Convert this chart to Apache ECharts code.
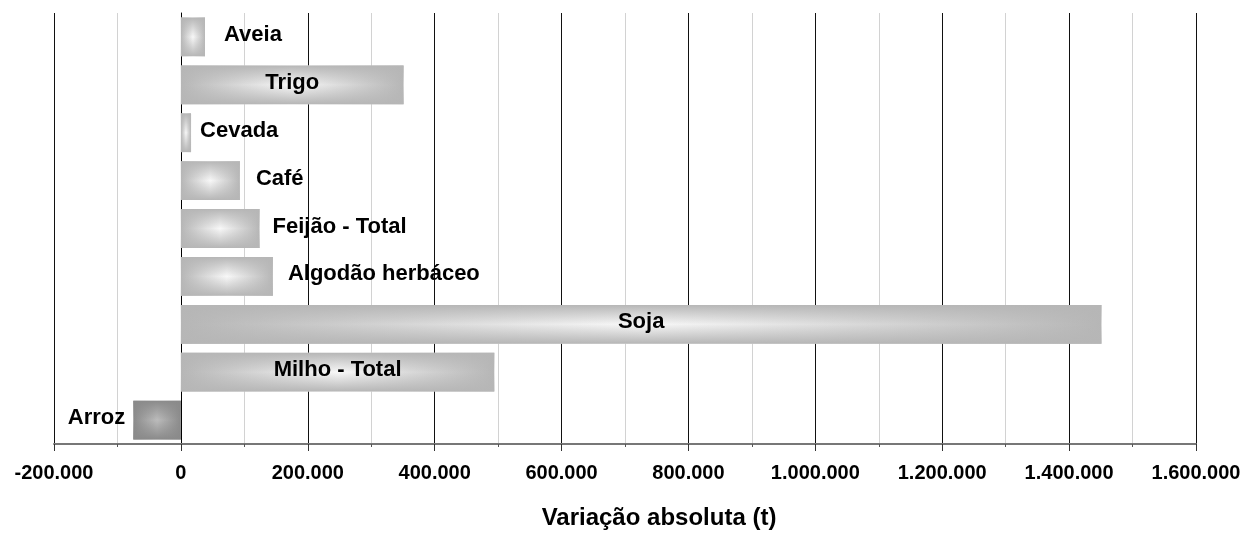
<!DOCTYPE html>
<html>
<head>
<meta charset="utf-8">
<script src="https://cdn.jsdelivr.net/npm/echarts@6/dist/echarts.min.js"></script>
<style>
  html, body { margin: 0; padding: 0; background: #fff; }
  #bar1 { width: 1244px; height: 539px; }
</style>
</head>
<body>
<div id="bar1"></div>
<script>
// categorias de baixo para cima
const culturas = ['Arroz', 'Milho - Total', 'Soja', 'Algodão herbáceo', 'Feijão - Total', 'Café', 'Cevada', 'Trigo', 'Aveia']
const variacao = [-75000, 494000, 1451000, 145000, 124000, 93000, 16000, 351000, 38000]
const ticksX = [-200000, 0, 200000, 400000, 600000, 800000, 1000000, 1200000, 1400000, 1600000]

// onde fica o rótulo de cada barra
const rotuloPos = ['left', 'inside', 'inside', 'right', 'right', 'right', 'right', 'inside', 'right']
const rotuloDist = [8, 0, 0, 15, 13, 16, 9, 0, 19]

const mychart = echarts.init(document.getElementById('bar1'))

function fmt (v) {
  const s = String(Math.abs(v)).replace(/\B(?=(\d{3})+(?!\d))/g, '.')
  return v < 0 ? '-' + s : s
}

function horiz (borda, centro) {
  return new echarts.graphic.LinearGradient(0, 0, 1, 0, [
    { offset: 0, color: borda },
    { offset: 0.5, color: centro },
    { offset: 1, color: borda }
  ])
}
function vert (rgb) {
  return new echarts.graphic.LinearGradient(0, 0, 0, 1, [
    { offset: 0, color: 'rgba(' + rgb + ',1)' },
    { offset: 0.5, color: 'rgba(' + rgb + ',0)' },
    { offset: 1, color: 'rgba(' + rgb + ',1)' }
  ])
}

const base = variacao.map(v => ({
  value: v,
  itemStyle: { color: v < 0 ? horiz('#8a8a8a', '#bcbcbc') : horiz('#b6b6b6', '#f8f8f8') }
}))
// camada de cima: sombreado vertical + rótulos
const sombra = variacao.map((v, i) => ({
  value: v,
  itemStyle: { color: v < 0 ? vert('138,138,138') : vert('182,182,182') },
  label: { position: rotuloPos[i], distance: rotuloDist[i] }
}))

const option = {
  animation: false,
  textStyle: { fontFamily: 'Liberation Sans, Arial, sans-serif' },
  grid: { left: 54, right: 48, top: 13, bottom: 95, containLabel: false },
  xAxis: {
    type: 'value',
    min: ticksX[0],
    max: ticksX[ticksX.length - 1],
    interval: 200000,
    name: 'Variação absoluta (t)',
    nameLocation: 'middle',
    nameGap: 62,
    nameTextStyle: { fontSize: 24, fontWeight: 'bold', color: '#000', padding: [0, 0, 0, 68] },
    axisLine: { show: true, onZero: false, lineStyle: { color: '#777', width: 2 } },
    axisTick: { show: true, length: 7, lineStyle: { color: '#333' } },
    minorTick: { show: true, splitNumber: 2, length: 3, lineStyle: { color: '#555' } },
    axisLabel: { margin: 19, fontSize: 20, fontWeight: 'bold', color: '#000', formatter: fmt },
    splitLine: { show: true, lineStyle: { color: '#111', width: 1 } },
    minorSplitLine: { show: true, lineStyle: { color: '#d2d2d2', width: 1 } }
  },
  yAxis: {
    type: 'category',
    data: culturas,
    axisLine: { show: true, onZero: true, lineStyle: { color: '#000', width: 1 } },
    axisTick: { show: false },
    axisLabel: { show: false },
    splitLine: { show: false }
  },
  series: [
    {
      type: 'bar',
      data: base,
      barCategoryGap: '19%'
    },
    {
      type: 'bar',
      data: sombra,
      barGap: '-100%',
      barCategoryGap: '19%',
      z: 3,
      label: {
        show: true,
        formatter: '{b}',
        fontSize: 22,
        fontWeight: 'bold',
        color: '#000',
        textBorderWidth: 0,
        offset: [0, -2]
      }
    }
  ]
}
mychart.setOption(option)
</script>
</body>
</html>
